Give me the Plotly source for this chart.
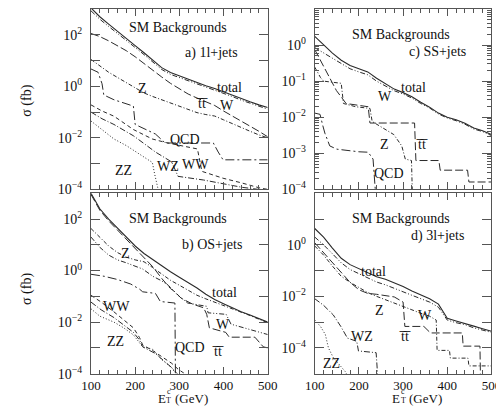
import plotly.graph_objects as go

# common E_T^c grid (GeV)
et = [100, 120, 140, 160, 180, 200, 220, 240, 260, 280, 300,
      320, 340, 360, 380, 400, 420, 440, 460, 480, 500]

# ---- a) 1l+jets, sigma in fb
a_total = [1100, 500, 260, 140, 75, 38, 20, 10, 5.3, 3.4, 2.5,
           1.9, 1.4, 1.05, 0.82, 0.6, 0.45, 0.33, 0.25, 0.19, 0.15]
a_w = [850, 400, 210, 115, 62, 32, 17, 8.5, 4.5, 2.9, 2.2,
       1.65, 1.22, 0.92, 0.72, 0.53, 0.4, 0.29, 0.22, 0.17, 0.13]
a_tt = [112, 85, 58, 38, 24, 14, 7.5, 4, 2.3, 1.3, 0.8,
        0.5, 0.35, 0.25, 0.18, 0.11, 0.07, 0.045, 0.03, 0.018, 0.011]
a_z = [11, 6, 3.5, 2.2, 1.4, 0.85, 0.55, 0.4, 0.3, 0.22, 0.16,
       0.12, 0.095, 0.08, 0.07, 0.05, 0.035, 0.025, 0.018, 0.013, 0.01]
a_qcd_et = [100, 116, 125, 129, 152, 196, 200, 246, 268, 377, 388, 399, 500]
a_qcd = [4.7, 3.5, 1.26, 0.46, 0.3, 0.17, 0.033, 0.014, 0.0063, 0.0063, 0.0028, 0.0014, 0.0014]
a_ww_et = [100, 125, 152, 175, 196, 220, 239, 270, 300, 341, 351, 399, 440, 483, 500]
a_ww = [0.19, 0.11, 0.069, 0.037, 0.021, 0.013, 0.009, 0.0065, 0.005, 0.0037,
        0.0005, 0.00027, 0.00018, 0.000112, 0.0001]
a_wz_et = [100, 125, 152, 175, 196, 220, 246, 283, 297, 355, 442, 500]
a_wz = [0.1, 0.055, 0.033, 0.019, 0.012, 0.006, 0.0028, 0.00115, 0.00032, 0.00023, 0.00012, 0.00009]
a_zz_et = [100, 125, 152, 180, 203, 239, 244, 250, 256]
a_zz = [0.045, 0.02, 0.009, 0.005, 0.0028, 0.0011, 0.0004, 0.00013, 0.00005]

# ---- c) SS+jets
c_total = [1.75, 1.0, 0.6, 0.38, 0.27, 0.22, 0.18, 0.12, 0.085, 0.06, 0.048,
           0.037, 0.026, 0.019, 0.013, 0.01, 0.0085, 0.0068, 0.005, 0.0042, 0.0033]
c_w = [0.85, 0.6, 0.42, 0.3, 0.22, 0.18, 0.15, 0.1, 0.075, 0.054, 0.044,
       0.034, 0.024, 0.018, 0.0123, 0.0095, 0.008, 0.0064, 0.0047, 0.004, 0.0031]
c_tt_et = [100, 120, 138, 149, 171, 221, 225, 326, 329, 381, 384, 446, 449, 500]
c_tt = [0.75, 0.26, 0.1, 0.055, 0.024, 0.0195, 0.0069, 0.0069, 0.00063, 0.00063,
        0.00034, 0.00034, 0.00016, 0.00016]
c_z_et = [100, 113, 120, 160, 165, 193, 225, 230, 279, 297, 305, 319, 323]
c_z = [0.245, 0.126, 0.1, 0.087, 0.024, 0.0195, 0.0175, 0.0076, 0.0033, 0.0016,
       0.00069, 0.00063, 0.00001]
c_qcd_et = [100, 112, 118, 123, 134, 150, 200, 221, 232, 236, 243]
c_qcd = [0.013, 0.012, 0.006, 0.0036, 0.0016, 0.0013, 0.0011, 0.00107, 0.00069, 0.0002, 0.00001]

# ---- b) OS+jets
b_total = [1000, 250, 100, 45, 20, 9, 4.6, 2.6, 1.5, 0.9, 0.55,
           0.35, 0.21, 0.12, 0.075, 0.052, 0.036, 0.025, 0.019, 0.014, 0.01]
b_tt_et = [100, 120, 140, 160, 180, 200, 220, 240, 260, 280, 290, 304, 330,
           355, 362, 368, 405, 413, 471, 490, 500]
b_tt = [900, 220, 85, 38, 16, 7, 3.3, 1.4, 0.5, 0.2, 0.15, 0.085, 0.05,
        0.036, 0.02, 0.006, 0.004, 0.0026, 0.0026, 0.0011, 0.001]
b_z = [43, 20, 9, 5, 3.3, 2.6, 2.2, 1.3, 0.75, 0.42, 0.27,
       0.17, 0.11, 0.08, 0.06, 0.045, 0.034, 0.025, 0.018, 0.013, 0.0095]
b_w_et = [100, 120, 140, 160, 180, 200, 217, 240, 260, 275, 297, 319, 362, 365, 406, 417, 493, 500]
b_w = [20, 8, 4, 2.6, 2.0, 1.5, 1.15, 0.6, 0.4, 0.27, 0.11, 0.055, 0.041, 0.023,
       0.02, 0.0083, 0.0035, 0.0033]
b_qcd_et = [100, 130, 160, 190, 210, 217, 246, 257, 290, 292]
b_qcd = [0.72, 0.6, 0.45, 0.3, 0.19, 0.15, 0.13, 0.063, 0.055, 0.000001]
b_ww_et = [100, 123, 152, 174, 196, 210, 217, 239, 261, 283, 297, 312]
b_ww = [0.11, 0.06, 0.025, 0.012, 0.006, 0.0025, 0.0013, 0.0008, 0.00045, 0.00025, 0.00015, 0.0001]
b_wz_et = [100, 123, 152, 174, 196, 210, 217, 246, 261, 283, 295]
b_wz = [0.06, 0.03, 0.015, 0.008, 0.004, 0.002, 0.0011, 0.0006, 0.00035, 0.00017, 0.0001]
b_zz_et = [100, 120, 152, 174, 196, 217, 239, 261, 283, 290, 297]
b_zz = [0.033, 0.017, 0.01, 0.006, 0.0032, 0.0011, 0.0009, 0.00034, 0.00017, 0.00011, 0.0001]

# ---- d) 3l+jets
d_total = [4.3, 2.0, 0.75, 0.3, 0.17, 0.12, 0.08, 0.058, 0.046, 0.033, 0.024,
           0.016, 0.011, 0.008, 0.005, 0.0014, 0.0011, 0.0009, 0.0007, 0.00055, 0.00044]
d_w = [2.0, 1.0, 0.45, 0.2, 0.11, 0.075, 0.05, 0.036, 0.028, 0.02, 0.015,
       0.011, 0.008, 0.006, 0.0038, 0.0012, 0.00095, 0.0008, 0.0006, 0.0005, 0.0004]
d_tt_et = [100, 120, 140, 160, 180, 200, 220, 240, 260, 280, 300, 304, 347, 362, 434, 436, 474, 476]
d_tt = [1.2, 0.5, 0.2, 0.08, 0.035, 0.018, 0.013, 0.012, 0.011, 0.0095, 0.006,
        0.00068, 0.00068, 0.00038, 0.00038, 0.000117, 0.000117, 0.000001]
d_z_et = [100, 120, 140, 160, 180, 200, 220, 240, 260, 280, 300, 320, 340, 360,
          375, 377, 405, 407, 447, 449, 500]
d_z = [0.9, 0.4, 0.15, 0.06, 0.035, 0.022, 0.014, 0.01, 0.0075, 0.0055, 0.004,
       0.003, 0.0022, 0.0017, 0.0012, 0.00008, 0.00008, 0.00004, 0.00004, 0.00002, 0.00002]
d_wz_et = [100, 120, 142, 159, 174, 195, 199, 239, 246]
d_wz = [0.0081, 0.0045, 0.0019, 0.00068, 0.00024, 0.00018, 0.000076, 0.000065, 0.000001]
d_zz_et = [100, 113, 124, 131, 142, 156, 171, 175]
d_zz = [0.0012, 0.00068, 0.00033, 0.0001, 0.000042, 0.000023, 0.000011, 0.000005]

INK = "#2a2a2a"
AX = "#555555"
FONT = "Liberation Serif, DejaVu Serif, serif"
TT = "t\u0305t\u0305"
W, H = 504, 406

# line styles per process
DASH = {
    "total": "solid",
    "W": "5px,2px,1px,2px,1px,2px",
    "tt": "8px,3px",
    "Z": "4px,2px,1px,2px",
    "QCD": "9px,3px,2px,3px",
    "WW": "4px,3px",
    "WZ": "6px,2px,1px,2px",
    "ZZ": "1px,2px",
}

fig = go.Figure()


def add(ax, x, y, kind):
    fig.add_trace(go.Scatter(
        x=x, y=y, mode="lines", xaxis="x" + ax, yaxis="y" + ax,
        line=dict(color=INK, width=1.1 if kind == "total" else 1, dash=DASH[kind]),
        showlegend=False, hoverinfo="skip"))


# a
add("", et, a_total, "total")
add("", et, a_w, "W")
add("", et, a_tt, "tt")
add("", et, a_z, "Z")
add("", a_qcd_et, a_qcd, "QCD")
add("", a_ww_et, a_ww, "WW")
add("", a_wz_et, a_wz, "WZ")
add("", a_zz_et, a_zz, "ZZ")
# c
add("2", et, c_total, "total")
add("2", et, c_w, "W")
add("2", c_tt_et, c_tt, "tt")
add("2", c_z_et, c_z, "Z")
add("2", c_qcd_et, c_qcd, "QCD")
# b
add("3", et, b_total, "total")
add("3", b_tt_et, b_tt, "tt")
add("3", et, b_z, "Z")
add("3", b_w_et, b_w, "W")
add("3", b_qcd_et, b_qcd, "QCD")
add("3", b_ww_et, b_ww, "WW")
add("3", b_wz_et, b_wz, "WZ")
add("3", b_zz_et, b_zz, "ZZ")
# d
add("4", et, d_total, "total")
add("4", et, d_w, "W")
add("4", d_tt_et, d_tt, "tt")
add("4", d_z_et, d_z, "Z")
add("4", d_wz_et, d_wz, "WZ")
add("4", d_zz_et, d_zz, "ZZ")


def exp_label(e):
    s = str(e).replace("-", "\u2212")
    return "10<sup>" + s + "</sup>"


def xaxis(domain, anchor, labels):
    return dict(domain=domain, anchor=anchor, range=[100, 500],
                tickmode="linear", tick0=100, dtick=100,
                ticks="inside", ticklen=7, tickcolor=AX, tickwidth=1,
                showline=True, linecolor=AX, linewidth=1, mirror="ticks",
                showgrid=False, zeroline=False, showticklabels=labels,
                ticklabelstandoff=0,
                tickfont=dict(family=FONT, size=13, color="#111"),
                minor=dict(tickmode="linear", tick0=100, dtick=20, ticks="inside",
                           ticklen=4, tickcolor=AX, showgrid=False))


def yaxis(domain, anchor, lo, hi, labelled, dense=False):
    exps = list(range(lo, hi + 1))
    ax = dict(domain=domain, anchor=anchor, type="log", range=[lo, hi],
              tickmode="array", tickvals=[10.0 ** e for e in exps],
              ticktext=[exp_label(e) if e in labelled else "" for e in exps],
              ticks="inside", ticklen=9, tickcolor=AX, tickwidth=1,
              showline=True, linecolor=AX, linewidth=1, mirror="ticks",
              showgrid=False, zeroline=False, ticklabelstandoff=5,
              tickfont=dict(family=FONT, size=14, color="#111"))
    if dense:
        ax["minor"] = dict(tickmode="array",
                           tickvals=[k * 10.0 ** e for e in exps[:-1] for k in range(2, 10)],
                           ticks="inside", ticklen=4, tickcolor=AX, showgrid=False)
    return ax


XL = [76 / W, 260 / W]
XR = [309 / W, 493 / W]
YT = [1 - 185 / H, 1 - 1 / H]
YB = [1 - 373 / H, 1 - 189 / H]

fig.update_layout(
    width=W, height=H,
    margin=dict(l=0, r=0, t=0, b=0),
    paper_bgcolor="white", plot_bgcolor="white",
    font=dict(family=FONT, size=14, color="#111"),
    xaxis=xaxis(XL, "y", False), yaxis=yaxis(YT, "x", -4, 3, [-4, -2, 0, 2]),
    xaxis2=xaxis(XR, "y2", False), yaxis2=yaxis(YT, "x2", -4, 1, [-4, -3, -2, -1, 0], dense=True),
    xaxis3=xaxis(XL, "y3", True), yaxis3=yaxis(YB, "x3", -4, 3, [-4, -2, 0, 2]),
    xaxis4=xaxis(XR, "y4", True), yaxis4=yaxis(YB, "x4", -5, 2, [-4, -2, 0]),
)


def lab(ax, x, y, text, size=14):
    fig.add_annotation(x=x, y=y, xref="x" + ax, yref="y" + ax, text=text,
                       showarrow=False, font=dict(family=FONT, size=size, color="#111"))


def ptext(px, py, text, size, xanchor="center", angle=0):
    fig.add_annotation(x=px / W, y=1 - py / H, xref="paper", yref="paper", text=text,
                       xanchor=xanchor, yanchor="middle", textangle=angle, borderpad=0,
                       showarrow=False, font=dict(family=FONT, size=size, color="#111"))


# a) labels
lab("", 297, 2.29, "SM Backgrounds")
lab("", 373, 1.28, "a) 1l+jets")
lab("", 413, -0.03, "total")
lab("", 351, -0.66, TT)
lab("", 407, -0.75, "W")
lab("", 217, -0.1, "Z")
lab("", 313, -2.05, "QCD")
lab("", 337, -3.04, "WW")
lab("", 275, -3.13, "WZ")
lab("", 174, -3.25, "ZZ")
# c) labels
lab("2", 295, 0.30, "SM Backgrounds")
lab("2", 377, -0.2, "c) SS+jets")
lab("2", 323, -1.17, "total")
lab("2", 259, -1.42, "W")
lab("2", 259, -2.75, "Z")
lab("2", 343, -2.75, TT)
lab("2", 268, -3.56, "QCD")
# b) labels
lab("3", 297, 2.01, "SM Backgrounds")
lab("3", 373, 1.0, "b) OS+jets")
lab("3", 402, -0.84, "total")
lab("3", 179, 0.68, "Z")
lab("3", 399, -2.11, "W")
lab("3", 388, -3.15, TT)
lab("3", 324, -3.0, "QCD")
lab("3", 158, -1.41, "WW")
lab("3", 156, -2.74, "ZZ")
# d) labels
lab("4", 295, 1.01, "SM Backgrounds")
lab("4", 377, 0.35, "d) 3l+jets")
lab("4", 232, -1.02, "total")
lab("4", 247, -2.54, "Z")
lab("4", 350, -2.73, "W")
lab("4", 305, -3.55, TT)
lab("4", 208, -3.55, "WZ")
lab("4", 138, -4.59, "ZZ")

# axis titles: sigma (fb) on the left, E_T^c with c stacked over T below
for py in (95, 287):
    ptext(10, py, "\u03c3 (fb)", 14, angle=-90)
for ex in (150, 394):
    ptext(ex, 398, "E", 13)
    ptext(ex + 7, 391.5, "c", 8)
    ptext(ex + 7, 400.5, "T", 8)
    ptext(ex + 12, 398, "(GeV)", 13, xanchor="left")

fig.write_html("out.html")
